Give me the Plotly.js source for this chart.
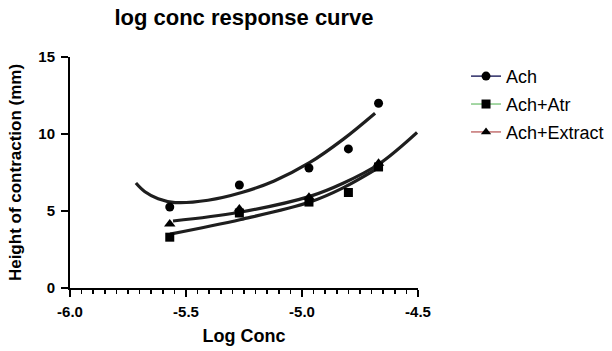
<!DOCTYPE html>
<html>
<head>
<meta charset="utf-8">
<script src="https://cdn.plot.ly/plotly-3.0.1.min.js"></script>
<style>html,body{margin:0;padding:0;background:#fff;}#chart{width:612px;height:351px;}</style>
</head>
<body>
<div id="chart"></div>
<script>
const logConc = [-5.57, -5.27, -4.97, -4.80, -4.67];
const ach = [5.26, 6.69, 7.79, 9.03, 12.0];
const achAtr = [3.3, 4.87, 5.58, 6.2, 7.86];
const achExtract = [4.16, 5.13, 5.9, null, 8.1];
const seriesNames = ['Ach', 'Ach+Atr', 'Ach+Extract'];

// Fitted curves
const achFitX = [-5.716, -5.677, -5.62, -5.547, -5.405, -5.26, -5.12, -4.966, -4.823, -4.685];
const achFitY = [6.82, 6.25, 5.8, 5.55, 5.7, 6.2, 6.95, 8.15, 9.65, 11.35];
const atrFitX = [-5.569, -5.263, -4.966, -4.823, -4.664];
const atrFitY = [3.5, 4.45, 5.58, 6.5, 7.86];
const extractFitX = [-5.556, -5.276, -4.966, -4.823, -4.668, -4.504];
const extractFitY = [4.35, 4.9, 5.95, 6.8, 8.05, 10.1];

const yTicks = [0, 5, 10, 15];
const xTicks = [-6, -5.5, -5, -4.5];
const xTickText = ['-6.0', '-5.5', '-5.0', '-4.5'];

const sets = [
  {y: ach, fx: achFitX, fy: achFitY, sym: 'circle', lc: '#2b2b66', size: 9},
  {y: achAtr, fx: atrFitX, fy: atrFitY, sym: 'square', lc: '#86c986', size: 9},
  {y: achExtract, fx: extractFitX, fy: extractFitY, sym: 'triangle-up', lc: '#c47272', size: 10}
];
const traces = [];
sets.forEach((s) => {
  traces.push({x: s.fx, y: s.fy, mode: 'lines', line: {color: '#1e1e1e', width: 3.2, shape: 'spline', smoothing: 1},
    showlegend: false, hoverinfo: 'skip'});
});
sets.forEach((s) => {
  traces.push({x: logConc, y: s.y, mode: 'markers', marker: {symbol: s.sym, color: '#000', size: s.size}, showlegend: false});
});
sets.forEach((s, i) => {
  traces.push({x: [null], y: [null], name: seriesNames[i], legendgroup: 'g' + i, mode: 'lines+markers',
    line: {color: s.lc, width: 1.5}, marker: {symbol: s.sym, color: '#000', size: 9}});
});

const layout = {
  width: 612, height: 351,
  margin: {l: 70, r: 194, t: 57, b: 63, autoexpand: false},
  paper_bgcolor: '#fff', plot_bgcolor: '#fff',
  font: {family: 'Liberation Sans, Arial, sans-serif', color: '#000'},
  title: {text: '<b>log conc response curve</b>', font: {size: 22}, x: 0.5, xref: 'paper', xanchor: 'center', y: 0.95, yanchor: 'middle'},
  xaxis: {
    range: [-6, -4.5], tickvals: xTicks, ticktext: xTickText.map(t => '<b>' + t + '</b>'),
    ticks: 'outside', ticklen: 7, tickwidth: 2, tickcolor: '#000', ticklabelstandoff: 2,
    showline: true, linecolor: '#000', linewidth: 2, showgrid: false, zeroline: false,
    tickfont: {size: 15},
    minor: {dtick: 0.05, tick0: -6, ticks: 'outside', ticklen: 4, tickwidth: 1.5, tickcolor: '#000', showgrid: false},
    title: {text: '<b>Log Conc</b>', font: {size: 18}, standoff: 10}
  },
  yaxis: {
    range: [0, 15], tickvals: yTicks, ticktext: yTicks.map(t => '<b>' + t + '</b>'),
    ticks: 'outside', ticklen: 7, tickwidth: 2, tickcolor: '#000', ticklabelstandoff: 3,
    showline: true, linecolor: '#000', linewidth: 2, showgrid: false, zeroline: false,
    tickfont: {size: 15},
    title: {text: '<b>Height of contraction (mm)</b>', font: {size: 17}, standoff: 12}
  },
  legend: {x: 1.138, xanchor: 'left', y: 0.996, yanchor: 'top', font: {size: 18}, traceorder: 'grouped',
    tracegroupgap: 1.5, itemwidth: 30, bgcolor: 'rgba(0,0,0,0)'},
  showlegend: true
};
Plotly.newPlot('chart', traces, layout, {displayModeBar: false, staticPlot: true});
</script>
</body>
</html>
